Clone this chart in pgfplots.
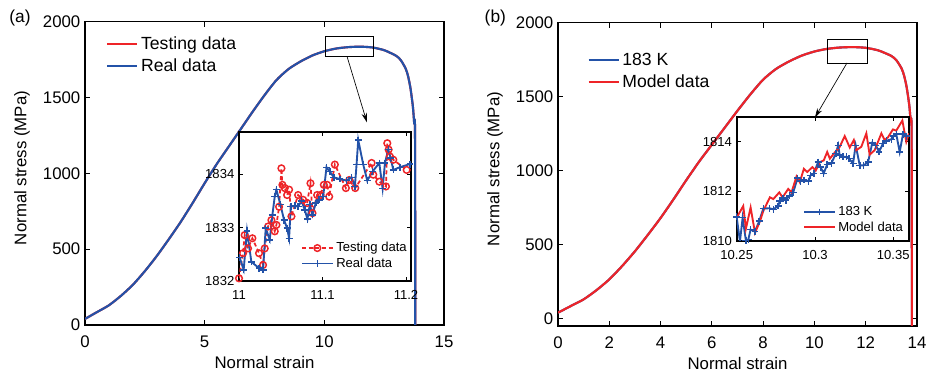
\documentclass[border=0pt]{standalone}
\usepackage{pgfplots}
\pgfplotsset{compat=1.18}
\usepackage{pgfplotstable}
\usepackage{fontspec}
\setmainfont{Liberation Sans}
\usetikzlibrary{arrows.meta}

\definecolor{cblue}{RGB}{35,82,168}
\definecolor{cred}{RGB}{238,36,40}

% full stress-strain curve
\pgfplotstableread{
x y
0 40
0.5 85
1 130
1.5 192
2 265
2.5 355
3 455
3.5 565
4 680
4.5 805
5 935
5.5 1060
6 1175
6.5 1290
7 1405
7.5 1515
8 1615
8.5 1687
9 1737
9.5 1777
10 1805
10.5 1823
11 1832
11.5 1835
12 1830
12.5 1812
13 1775
13.2 1745
13.4 1690
13.5 1640
13.6 1560
13.7 1440
13.75 1340
13.79 1265
13.8 -50
}\curve

% zoom (a): testing data
\pgfplotstableread{
x y
11.0000 1832.05
11.0048 1832.52
11.0068 1832.86
11.0108 1832.61
11.0160 1832.80
11.0240 1832.52
11.0288 1832.30
11.0308 1832.61
11.0348 1833.02
11.0388 1833.14
11.0428 1832.93
11.0448 1833.05
11.0480 1833.39
11.0508 1834.11
11.0520 1833.80
11.0548 1833.74
11.0576 1833.61
11.0600 1833.71
11.0628 1833.21
11.0708 1833.61
11.0768 1833.52
11.0816 1833.46
11.0856 1833.83
11.0880 1833.27
11.0936 1833.61
11.0976 1833.61
11.1016 1833.80
11.1056 1833.80
11.1080 1833.58
11.1148 1834.18
11.1280 1833.74
11.1320 1833.89
11.1392 1833.74
11.1588 1834.21
11.1608 1833.99
11.1680 1833.86
11.1760 1833.77
11.1776 1834.58
11.1792 1834.46
11.1808 1834.33
11.1848 1834.27
11.2008 1834.08
}\testdat

% zoom (a): real data
\pgfplotstableread{
x y
11.0008 1832.44
11.0056 1832.21
11.0096 1832.94
11.0148 1832.36
11.0240 1832.24
11.0288 1832.21
11.0320 1832.99
11.0368 1832.77
11.0400 1833.24
11.0428 1833.58
11.0448 1833.71
11.0496 1833.43
11.0540 1833.14
11.0576 1832.99
11.0600 1832.80
11.0620 1833.39
11.0668 1833.41
11.0708 1833.39
11.0748 1833.50
11.0788 1833.33
11.0820 1833.16
11.0848 1833.43
11.0880 1833.24
11.0920 1833.46
11.0960 1833.52
11.1008 1833.58
11.1048 1834.13
11.1088 1834.05
11.1136 1833.94
11.1208 1833.91
11.1288 1833.88
11.1348 1833.94
11.1388 1833.77
11.1408 1834.18
11.1428 1834.64
11.1488 1834.18
11.1536 1833.88
11.1600 1834.05
11.1680 1834.21
11.1720 1833.73
11.1748 1834.21
11.1788 1834.46
11.1816 1834.30
11.1848 1834.08
11.1928 1834.13
11.2048 1834.19
}\realdat

% zoom (b): 183 K
\pgfplotstableread{
x y
10.2500 1810.97
10.2521 1809.98
10.2538 1810.94
10.2559 1810.01
10.2574 1810.05
10.2589 1810.46
10.2617 1810.39
10.2644 1810.80
10.2670 1811.31
10.2708 1811.32
10.2734 1811.28
10.2765 1811.41
10.2776 1811.62
10.2797 1811.73
10.2814 1811.65
10.2836 1811.82
10.2861 1811.96
10.2889 1812.54
10.2908 1812.41
10.2929 1812.46
10.2957 1812.41
10.2971 1812.64
10.2993 1812.73
10.3020 1813.18
10.3035 1812.98
10.3056 1812.73
10.3078 1813.09
10.3105 1813.14
10.3133 1813.52
10.3148 1813.86
10.3158 1813.46
10.3180 1813.39
10.3201 1813.39
10.3218 1813.32
10.3243 1813.12
10.3260 1813.86
10.3286 1813.05
10.3311 1813.05
10.3339 1813.18
10.3366 1813.96
10.3388 1813.86
10.3409 1813.59
10.3434 1813.93
10.3456 1814.04
10.3487 1814.10
10.3502 1814.23
10.3519 1814.31
10.3541 1813.59
10.3562 1814.31
10.3583 1814.23
}\kdat

% zoom (b): model data
\pgfplotstableread{
x y
10.2500 1810.94
10.2542 1811.41
10.2559 1810.50
10.2589 1811.35
10.2617 1810.33
10.2649 1810.80
10.2670 1811.21
10.2712 1811.76
10.2734 1811.69
10.2772 1811.96
10.2793 1811.76
10.2829 1812.10
10.2850 1811.96
10.2882 1812.60
10.2903 1812.37
10.2929 1812.91
10.2950 1812.78
10.2984 1812.98
10.3005 1812.84
10.3031 1813.18
10.3056 1813.25
10.3078 1813.59
10.3095 1813.32
10.3120 1813.52
10.3158 1813.80
10.3190 1814.23
10.3222 1813.77
10.3248 1814.07
10.3264 1813.66
10.3296 1813.80
10.3328 1814.34
10.3349 1813.48
10.3381 1813.66
10.3424 1814.34
10.3445 1814.07
10.3466 1814.18
10.3498 1814.50
10.3519 1814.45
10.3558 1814.86
10.3583 1814.00
10.3600 1814.34
}\moddat

\pgfplotsset{
  common/.style={
    scale only axis,
    tick align=inside,
    /pgf/number format/assume math mode=true,
    /pgf/number format/1000 sep={},
    scaled ticks=false,
    tick style={black, line width=0.6pt},
    legend cell align=left,
  },
  mainax/.style={
    common,
    width=269.25pt, height=227.5pt,
    major tick length=4pt,
    axis line style={line width=1pt},
    ticklabel style={font=\fontsize{12.6}{14}\selectfont},
    xticklabel style={yshift=-4.5pt},
    label style={font=\fontsize{12.6}{14}\selectfont},
    ylabel style={yshift=3pt, xshift=4pt},
    xlabel={Normal strain},
    ylabel={Normal stress (MPa)},
    ytick={0,500,1000,1500,2000},
    legend style={draw=none, fill=none, inner sep=1pt,
      font=\fontsize{13.2}{16.5}\selectfont, row sep=1.5pt},
    legend image code/.code={\draw[##1] (0pt,0pt) -- (22.5pt,0pt);},
  },
  insetax/.style={
    common,
    axis background/.style={fill=white},
    major tick length=3pt,
    axis line style={line width=1.6pt},
    ticklabel style={font=\fontsize{9.8}{11}\selectfont},
    xticklabel style={yshift=-3.5pt},
    legend style={draw=none, fill=none, inner sep=1pt,
      font=\fontsize{9.8}{12}\selectfont, row sep=-1pt},
    legend image code/.code={\draw[mark repeat=2, mark phase=2, ##1]
      plot coordinates {(0pt,0pt) (11.5pt,0pt) (23pt,0pt)};},
  },
}

\begin{document}
\begin{tikzpicture}
\path[use as bounding box] (0,0) rectangle (696pt,280.5pt);

% ---------------- panel (a) ----------------
\begin{axis}[mainax, at={(63.75pt,36.75pt)}, anchor=south west,
  xmin=0, xmax=15, ymin=0, ymax=2000, xtick={0,5,10,15},
  legend style={at={(0.055,0.965)}, anchor=north west}]
  \addplot[cred, line width=1.6pt, smooth, tension=0.4] table {\curve};
  \addlegendentry{Testing data}
  \addplot[cblue, line width=1.6pt, smooth, tension=0.4] table {\curve};
  \addlegendentry{Real data}
  \draw[line width=0.5pt] (axis cs:10.03,1770) rectangle (axis cs:12.03,1901);
  \draw[line width=0.5pt, -{Stealth[length=7pt, width=4pt]}]
    (axis cs:10.95,1770) -- (axis cs:11.78,1336);
\end{axis}
\node[font=\fontsize{13}{15}\selectfont] at (15pt,267pt) {(a)};

\begin{axis}[insetax, at={(179.25pt,69.75pt)}, anchor=south west,
  width=129pt, height=111.75pt,
  xmin=11, xmax=11.206, ymin=1832, ymax=1834.79,
  xtick={11,11.1,11.2}, ytick={1832,1833,1834},
  legend style={at={(1.0,0.05)}, anchor=south east}]
  \addplot[cred, line width=1.3pt, densely dashed, mark=o, mark size=2.5pt,
    mark options={solid, line width=1.1pt}] table {\testdat};
  \addlegendentry{Testing data}
  \addplot[cblue, line width=1.4pt, mark=+, mark size=2.6pt,
    mark options={line width=1.1pt}] table {\realdat};
  \addlegendentry{Real data}
\end{axis}

% ---------------- panel (b) ----------------
\begin{axis}[mainax, at={(418.5pt,36pt)}, anchor=south west,
  xmin=0, xmax=14, ymin=-50, ymax=2000, xtick={0,2,4,6,8,10,12,14},
  legend style={at={(0.078,0.915)}, anchor=north west}]
  \addplot[cblue, line width=1.6pt, smooth, tension=0.4] table {\curve};
  \addlegendentry{183 K}
  \addplot[cred, line width=1.6pt, smooth, tension=0.4] table {\curve};
  \addlegendentry{Model data}
  \draw[line width=0.5pt] (axis cs:10.49,1728) rectangle (axis cs:12.05,1889);
  \draw[line width=0.5pt, -{Stealth[length=7pt, width=4pt]}]
    (axis cs:11.27,1728) -- (axis cs:10.02,1359);
\end{axis}
\node[font=\fontsize{13}{15}\selectfont] at (371.5pt,267pt) {(b)};

\begin{axis}[insetax, at={(552.5pt,99.75pt)}, anchor=south west,
  width=129.2pt, height=93pt,
  xmin=10.25, xmax=10.36, ymin=1810, ymax=1815,
  xtick={10.25,10.3,10.35}, ytick={1810,1812,1814},
  xticklabel style={/pgf/number format/precision=2},
  legend style={at={(0.99,0.03)}, anchor=south east}]
  \addplot[cblue, line width=1.4pt, mark=+, mark size=2.6pt,
    mark options={line width=1.1pt}] table {\kdat};
  \addlegendentry{183 K}
  \addplot[cred, line width=1.4pt] table {\moddat};
  \addlegendentry{Model data}
\end{axis}
\end{tikzpicture}
\end{document}
